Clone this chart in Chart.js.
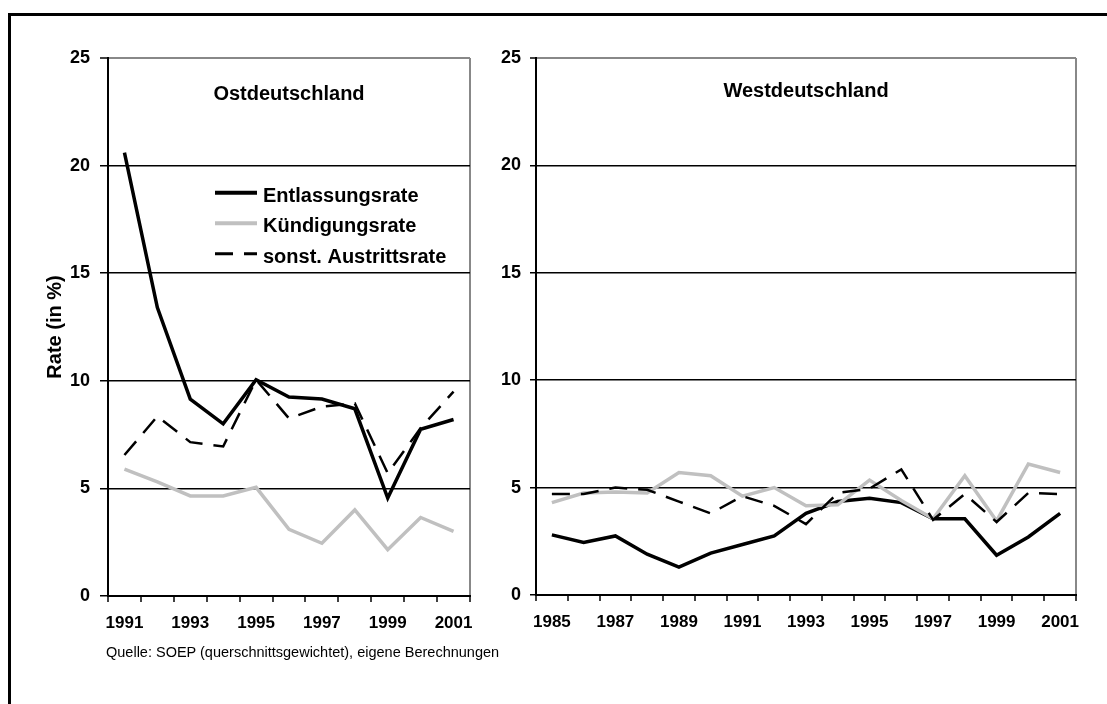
<!DOCTYPE html>
<html>
<head>
<meta charset="utf-8">
<script src="https://cdn.jsdelivr.net/npm/chart.js@4/dist/chart.umd.min.js"></script>
<style>
  body { margin: 0; width: 1107px; height: 704px; overflow: hidden; background: #fff; position: relative; font-family: "Liberation Sans", Arial, sans-serif; }
  .frame { position: absolute; left: 8px; top: 13px; width: 1200px; height: 800px; border-left: 3px solid #000; border-top: 3px solid #000; }
  canvas { position: absolute; top: 0; }
  #ost { left: 0; }
  #west { left: 490px; }
  .source { position: absolute; left: 106px; top: 645px; font-size: 14.5px; line-height: 14.5px; color: #000; white-space: nowrap; }
</style>
</head>
<body>
<div class="frame"></div>
<canvas id="ost" width="490" height="704"></canvas>
<canvas id="west" width="617" height="704"></canvas>
<div class="source">Quelle: SOEP (querschnittsgewichtet), eigene Berechnungen</div>
<script>
// Ostdeutschland 1991-2001
const ostYears = ['1991', '1992', '1993', '1994', '1995', '1996', '1997', '1998', '1999', '2000', '2001'];
const ostEntlassung = [20.6, 13.4, 9.15, 8.0, 10.05, 9.25, 9.15, 8.7, 4.55, 7.75, 8.2];
const ostKuendigung = [5.9, 5.3, 4.65, 4.65, 5.05, 3.1, 2.45, 4.0, 2.15, 3.65, 3.0];
const ostSonst = [6.55, 8.35, 7.15, 6.95, 10.05, 8.25, 8.8, 8.95, 5.7, 7.8, 9.5];

// Westdeutschland 1985-2001
const westYears = ['1985', '1986', '1987', '1988', '1989', '1990', '1991', '1992', '1993',
                   '1994', '1995', '1996', '1997', '1998', '1999', '2000', '2001'];
const westEntlassung = [2.8, 2.45, 2.75, 1.9, 1.3, 1.95, 2.35, 2.75, 3.8, 4.35, 4.5, 4.3, 3.55, 3.55, 1.85, 2.7, 3.8];
const westKuendigung = [4.3, 4.75, 4.8, 4.75, 5.7, 5.55, 4.6, 5.0, 4.15, 4.2, 5.35, 4.4, 3.55, 5.55, 3.45, 6.1, 5.7];
const westSonst = [4.7, 4.7, 5.0, 4.9, 4.35, 3.8, 4.6, 4.15, 3.3, 4.75, 4.95, 5.85, 3.5, 4.7, 3.4, 4.75, 4.7];

const seriesNames = ['Entlassungsrate', 'Kündigungsrate', 'sonst. Austrittsrate'];
const yTicks = [0, 5, 10, 15, 20, 25];

const fontFamily = '"Liberation Sans", Arial, sans-serif';

// titles and the legend sit inside the plot area
const panelText = {
  id: 'panelText',
  afterDraw(chart, args, opts) {
    const { ctx, chartArea: a } = chart;
    ctx.save();
    ctx.fillStyle = '#000';
    ctx.font = 'bold 20px ' + fontFamily;
    ctx.textAlign = 'center';
    ctx.textBaseline = 'alphabetic';
    ctx.fillText(opts.title, (a.left + a.right) / 2, a.top + opts.titleY);
    if (opts.legend) {
      ctx.textAlign = 'left';
      chart.data.datasets.forEach((ds, i) => {
        const y = a.top + opts.legendY + i * 30.5;
        ctx.beginPath();
        ctx.strokeStyle = ds.borderColor;
        ctx.lineWidth = ds.borderWidth + 0.5;
        ctx.setLineDash(ds.borderDash || []);
        ctx.moveTo(a.left + opts.legendX, y - 9);
        ctx.lineTo(a.left + opts.legendX + 42, y - 9);
        ctx.stroke();
        ctx.setLineDash([]);
        ctx.fillText(ds.label, a.left + opts.legendX + 48, y);
      });
    }
    ctx.restore();
  }
};

function makeDatasets(ent, kue, son) {
  return [
    { label: seriesNames[0], data: ent, borderColor: '#000', borderWidth: 3.5, order: 3 },
    { label: seriesNames[1], data: kue, borderColor: '#c0c0c0', borderWidth: 3.5, order: 2 },
    { label: seriesNames[2], data: son, borderColor: '#000', borderWidth: 2.5, borderDash: [18, 11], order: 1 }
  ];
}

function makeChart(id, labels, datasets, o) {
  return new Chart(document.getElementById(id), {
    type: 'line',
    data: { labels: labels, datasets: datasets },
    plugins: [panelText],
    options: {
      responsive: false,
      animation: false,
      events: [],
      elements: { point: { radius: 0 }, line: { tension: 0, borderCapStyle: 'butt', borderJoinStyle: 'miter' } },
      layout: { padding: { left: 0, top: 58, right: o.padRight, bottom: 0 } },
      plugins: {
        legend: { display: false },
        tooltip: { enabled: false },
        panelText: { title: o.title, titleY: o.titleY, legend: o.legend, legendX: 107, legendY: 143.7 }
      },
      scales: {
        x: {
          offset: true,
          border: { color: '#000', width: 2 },
          grid: {
            offset: true,
            drawTicks: true,
            tickLength: 6,
            tickWidth: 1.5,
            tickColor: '#000',
            lineWidth: 2,
            // only the closing line at the right edge is shown (grey frame)
            color: ctx => ctx.type === 'tick' ? 'rgba(0,0,0,0)' : '#888'
          },
          ticks: {
            autoSkip: false,
            maxRotation: 0,
            padding: 11,
            color: '#000',
            font: { family: fontFamily, size: 17, weight: 'bold' },
            callback: (v, i) => i % 2 === 0 ? labels[i] : ''
          },
          afterFit: s => { s.height = o.xHeight; s.paddingLeft = 0; s.paddingRight = 0; }
        },
        y: {
          min: 0,
          max: 25,
          afterBuildTicks: s => { s.ticks = yTicks.map(v => ({ value: v })); },
          border: { color: '#000', width: 2 },
          grid: {
            tickLength: o.yTick,
            tickColor: '#000',
            tickWidth: 1.5,
            lineWidth: ctx => ctx.tick && ctx.tick.value === 25 ? 2 : 1.5,
            color: ctx => ctx.tick && ctx.tick.value === 25 ? '#888' : '#000'
          },
          ticks: {
            padding: o.yPad,
            color: '#000',
            font: { family: fontFamily, size: 18, weight: 'bold' }
          },
          title: {
            display: o.yTitle,
            text: 'Rate (in %)',
            color: '#000',
            font: { family: fontFamily, size: 20, weight: 'bold' },
            padding: { top: 43, bottom: 0 }
          },
          afterFit: s => { s.width = o.yWidth; s.paddingTop = 0; s.paddingBottom = 0; }
        }
      }
    }
  });
}

makeChart('ost', ostYears, makeDatasets(ostEntlassung, ostKuendigung, ostSonst), {
  title: 'Ostdeutschland', titleY: 42, legend: true, padRight: 20,
  xHeight: 108, yWidth: 108, yTick: 8, yPad: 10, yTitle: true
});

makeChart('west', westYears, makeDatasets(westEntlassung, westKuendigung, westSonst), {
  title: 'Westdeutschland', titleY: 38.5, legend: false, padRight: 31,
  xHeight: 109, yWidth: 46, yTick: 6, yPad: 9, yTitle: false
});
</script>
</body>
</html>
